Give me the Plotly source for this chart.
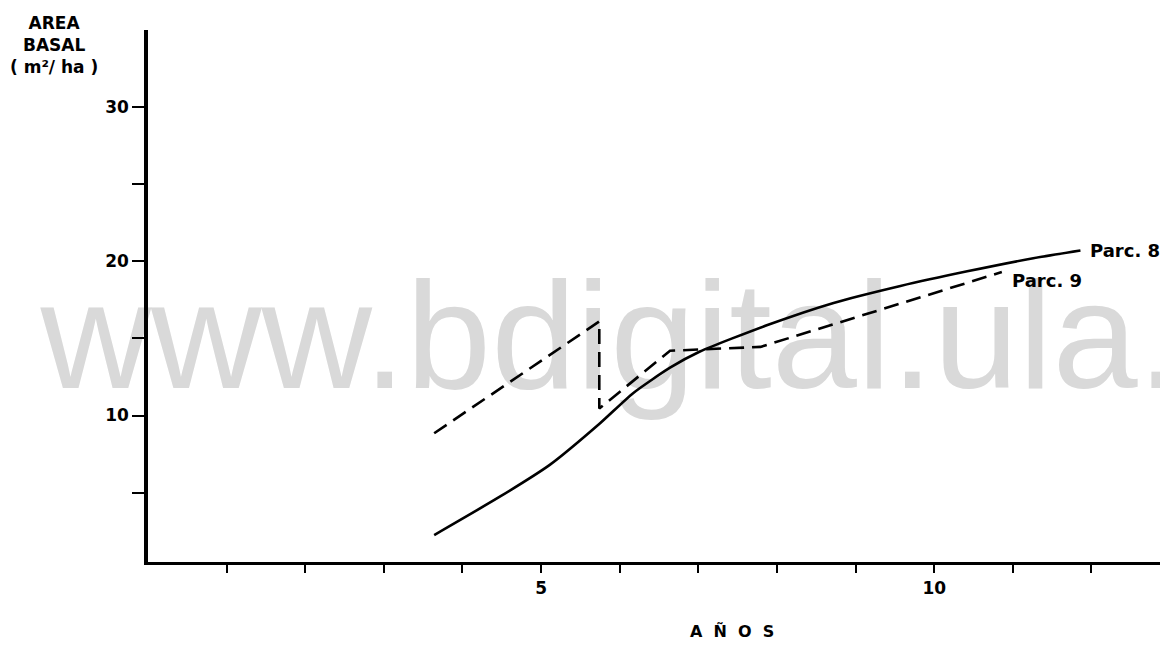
import plotly.graph_objects as go

# ---- data ----
parc8_x = [3.64, 4.48, 5.11, 5.75, 6.17, 6.64, 7.02, 7.87, 8.72, 9.57, 10.42, 11.26, 11.86]
parc8_y = [2.25, 4.75, 6.8, 9.5, 11.45, 13.1, 14.15, 15.85, 17.3, 18.4, 19.35, 20.2, 20.7]

parc9_x = [3.64, 5.74, 5.74, 6.64, 7.79, 10.86]
parc9_y = [8.85, 16.1, 10.45, 14.2, 14.45, 19.3]

x_tickvals = list(range(1, 13))
x_ticktext = ["" if v not in (5, 10) else "<b>%d</b>" % v for v in x_tickvals]
y_tickvals = [5, 10, 15, 20, 25, 30]
y_ticktext = ["", "<b>10</b>", "", "<b>20</b>", "", "<b>30</b>"]

series_names = ["Parc. 8", "Parc. 9"]

FONT = "DejaVu Sans"
NB = "\u00a0"

fig = go.Figure()

# watermark (drawn first so the curves lie on top of it)
fig.add_trace(go.Scatter(
    x=[5.88], y=[14.26], mode="text", text=["www.bdigital.ula."],
    textposition="middle center",
    textfont=dict(family="Liberation Sans, Arial", size=153, color="#d9d9d9"),
    hoverinfo="skip", showlegend=False, cliponaxis=False,
))

fig.add_trace(go.Scatter(
    x=parc8_x, y=parc8_y, mode="lines", name=series_names[0],
    line=dict(color="black", width=2.6, shape="spline", smoothing=0.6),
    showlegend=False,
))
fig.add_trace(go.Scatter(
    x=parc9_x, y=parc9_y, mode="lines", name=series_names[1],
    line=dict(color="black", width=2.6, dash="15px,8px"),
    showlegend=False,
))

# end-of-line labels anchored to the last points
fig.add_annotation(x=parc8_x[-1], y=parc8_y[-1], text="<b>" + series_names[0] + "</b>",
                   showarrow=False, xanchor="left", yanchor="middle", xshift=8,
                   font=dict(family=FONT, size=18, color="black"))
fig.add_annotation(x=parc9_x[-1], y=parc9_y[-1], text="<b>" + series_names[1] + "</b>",
                   showarrow=False, xanchor="left", yanchor="middle", xshift=8, yshift=-8,
                   font=dict(family=FONT, size=18, color="black"))

# axis titles
fig.add_annotation(xref="paper", yref="paper", x=-0.0926, y=1.035,
                   text="<b>AREA<br>BASAL<br>( m²/ ha )</b>", showarrow=False,
                   xanchor="center", yanchor="top", align="center",
                   font=dict(family=FONT, size=17, color="black"))
fig.add_annotation(xref="paper", yref="paper", x=0.575, y=-0.13,
                   text="<b>" + (NB * 2).join(["A", "Ñ", "O", "S"]) + "</b>",
                   showarrow=False, xanchor="center", yanchor="middle",
                   font=dict(family=FONT, size=16, color="black"))

fig.update_layout(
    width=1160, height=642,
    margin=dict(l=140, r=5, t=22, b=88),
    paper_bgcolor="white", plot_bgcolor="white",
    font=dict(family=FONT, size=17, color="black"),
    xaxis=dict(range=[0, 12.91], showgrid=False, zeroline=False,
               showline=True, linecolor="black", linewidth=3,
               ticks="outside", ticklen=8, tickwidth=1.5, tickcolor="black",
               tickvals=x_tickvals, ticktext=x_ticktext, ticklabelstandoff=1,
               tickfont=dict(family=FONT, size=17, color="black")),
    yaxis=dict(range=[0.5, 35], showgrid=False, zeroline=False,
               showline=True, linecolor="black", linewidth=3.5,
               ticks="outside", ticklen=12, tickwidth=1.5, tickcolor="black",
               tickvals=y_tickvals, ticktext=y_ticktext,
               tickfont=dict(family=FONT, size=17, color="black")),
)

fig.write_html("out.html")
